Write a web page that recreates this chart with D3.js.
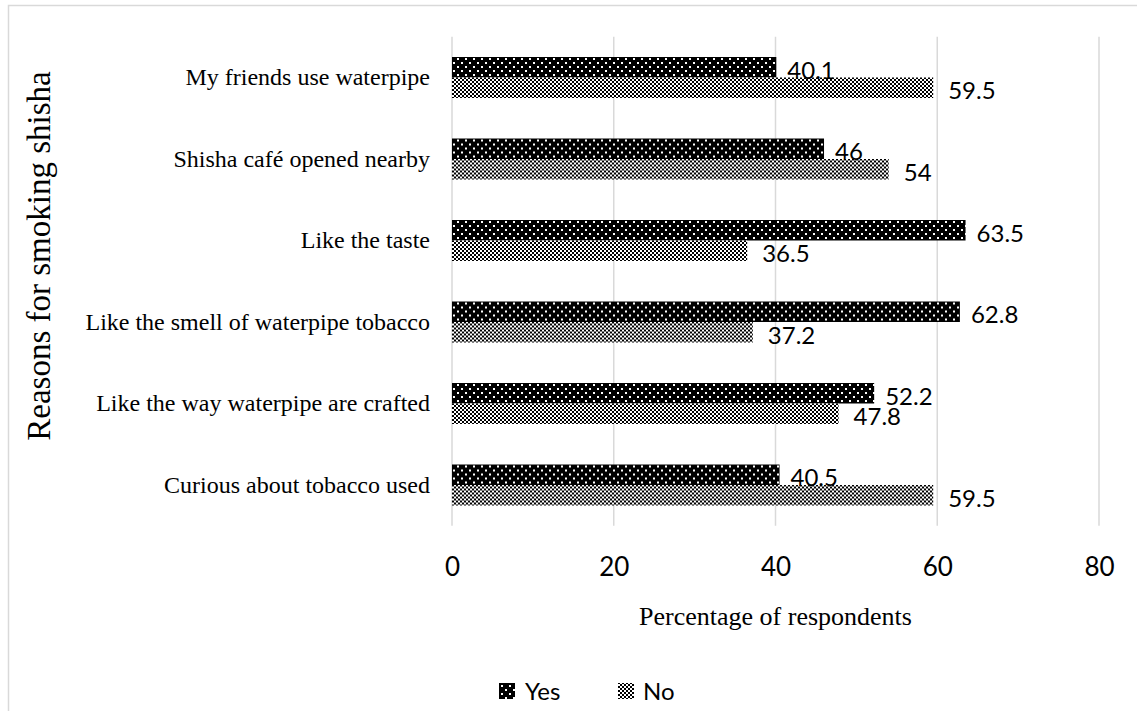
<!DOCTYPE html>
<html>
<head>
<meta charset="utf-8">
<script src="https://cdn.jsdelivr.net/npm/d3@7"></script>
<style>
  html, body { margin: 0; padding: 0; background: #fff; }
  svg { display: block; }
</style>
</head>
<body>
<svg id="chart" width="1137" height="711"></svg>
<script>
const categories = [
  "My friends use waterpipe",
  "Shisha café opened nearby",
  "Like the taste",
  "Like the smell of waterpipe tobacco",
  "Like the way waterpipe are crafted",
  "Curious about tobacco used"
];
const yesValues = [40.1, 46, 63.5, 62.8, 52.2, 40.5];
const noValues  = [59.5, 54, 36.5, 37.2, 47.8, 59.5];
const seriesNames = ["Yes", "No"];
const xTicks = [0, 20, 40, 60, 80];
const xTitle = "Percentage of respondents";
const yTitle = "Reasons for smoking shisha";

const svg = d3.select("#chart");
const W = 1137, H = 711;
const plot = { left: 452, right: 1099, top: 36.75, bottom: 525.75 };

// patterns
const defs = svg.append("defs");
const pYes = defs.append("pattern").attr("id", "pYes")
  .attr("patternUnits", "userSpaceOnUse").attr("width", 8).attr("height", 8);
pYes.append("rect").attr("width", 8).attr("height", 8).attr("fill", "#000");
pYes.append("rect").attr("x", 1).attr("y", 1).attr("width", 2).attr("height", 2).attr("fill", "#fff");
pYes.append("rect").attr("x", 5).attr("y", 5).attr("width", 2).attr("height", 2).attr("fill", "#fff");

const pNo = defs.append("pattern").attr("id", "pNo")
  .attr("patternUnits", "userSpaceOnUse").attr("width", 4).attr("height", 4);
pNo.append("rect").attr("width", 4).attr("height", 4).attr("fill", "#fff");
pNo.append("rect").attr("x", 0).attr("y", 0).attr("width", 2).attr("height", 2).attr("fill", "#000");
pNo.append("rect").attr("x", 2).attr("y", 2).attr("width", 2).attr("height", 2).attr("fill", "#000");

const fills = { Yes: "url(#pYes)", No: "url(#pNo)" };

// border
svg.append("rect").attr("x", 8.5).attr("y", 5.5).attr("width", W + 20).attr("height", H + 20)
  .attr("fill", "none").attr("stroke", "#d9d9d9").attr("stroke-width", 1.5);

const x = d3.scaleLinear().domain([0, 80]).range([plot.left, plot.right]);
const y = d3.scaleBand().domain(categories).range([plot.top, plot.bottom]).paddingInner(0.497).paddingOuter(0.2485);
const ySub = d3.scaleBand().domain(seriesNames).range([0, y.bandwidth()]);

// gridlines
svg.append("g").selectAll("line").data(xTicks).join("line")
  .attr("x1", d => x(d)).attr("x2", d => x(d))
  .attr("y1", plot.top).attr("y2", plot.bottom)
  .attr("stroke", "#d9d9d9").attr("stroke-width", 1.5);

// x axis
const xAxis = svg.append("g").attr("transform", `translate(0,${plot.bottom})`)
  .call(d3.axisBottom(x).tickValues(xTicks).tickSize(0).tickPadding(32));
xAxis.select(".domain").remove();
xAxis.selectAll("text").attr("font-family", "Lato, 'Open Sans', sans-serif")
  .attr("font-size", 26).attr("fill", "#000");

// y axis
const yAxis = svg.append("g").attr("transform", `translate(${plot.left},0)`)
  .call(d3.axisLeft(y).tickSize(0).tickPadding(22));
yAxis.select(".domain").remove();
yAxis.selectAll("text").attr("font-family", "'Liberation Serif', 'Times New Roman', serif")
  .attr("font-size", 24).attr("fill", "#000");

// bars
const rows = categories.map((c, i) => ({ cat: c, Yes: yesValues[i], No: noValues[i] }));
const groups = svg.append("g").selectAll("g").data(rows).join("g")
  .attr("transform", d => `translate(0,${y(d.cat)})`);
groups.selectAll("rect").data(d => seriesNames.map(s => ({ s, v: d[s] }))).join("rect")
  .attr("x", x(0))
  .attr("y", d => ySub(d.s))
  .attr("width", d => x(d.v) - x(0))
  .attr("height", ySub.bandwidth())
  .attr("fill", d => fills[d.s]);
groups.selectAll("text").data(d => seriesNames.map(s => ({ s, v: d[s] }))).join("text")
  .attr("x", d => x(d.v) + (d.s === "Yes" ? 11 : 15))
  .attr("y", d => ySub(d.s) + ySub.bandwidth() / 2 + 2)
  .attr("dominant-baseline", "central")
  .attr("font-family", "Lato, 'Open Sans', sans-serif")
  .attr("font-size", 24).attr("fill", "#000")
  .text(d => d.v);

// axis titles
svg.append("text").attr("x", (plot.left + plot.right) / 2).attr("y", 625)
  .attr("text-anchor", "middle")
  .attr("font-family", "'Liberation Serif', 'Times New Roman', serif")
  .attr("font-size", 26).attr("fill", "#000").text(xTitle);

svg.append("text")
  .attr("transform", `translate(50,256) rotate(-90)`)
  .attr("text-anchor", "middle")
  .attr("font-family", "'Liberation Serif', 'Times New Roman', serif")
  .attr("font-size", 33).attr("fill", "#000").text(yTitle);

// legend
const legendItems = [
  { name: "Yes", sx: 499, tx: 525 },
  { name: "No", sx: 618, tx: 643 }
];
const lg = svg.append("g");
lg.selectAll("rect").data(legendItems).join("rect")
  .attr("x", d => d.sx).attr("y", 683).attr("width", 16).attr("height", 16)
  .attr("fill", d => fills[d.name]);
lg.selectAll("text").data(legendItems).join("text")
  .attr("x", d => d.tx).attr("y", 700)
  .attr("font-family", "Lato, 'Open Sans', sans-serif")
  .attr("font-size", 24).attr("fill", "#000")
  .text(d => d.name);
</script>
</body>
</html>
